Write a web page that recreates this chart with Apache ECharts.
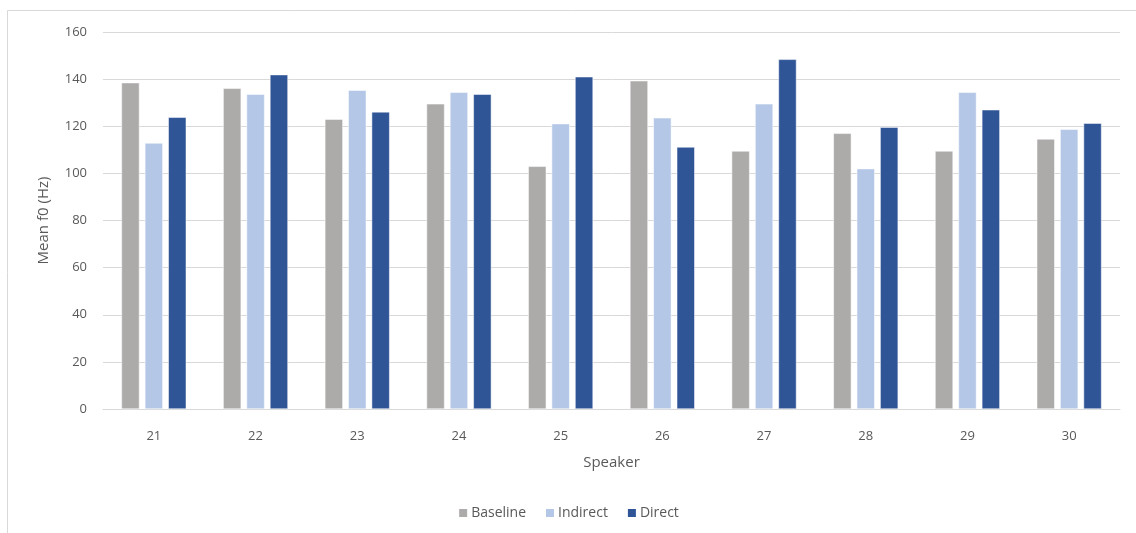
<!DOCTYPE html>
<html><head><meta charset="utf-8">
<script src="https://cdn.jsdelivr.net/npm/echarts@6/dist/echarts.min.js"></script>
<style>html,body{margin:0;padding:0;background:#fff}#c{width:1136px;height:533px}</style>
</head><body><div id="c"></div>
<script>
const categories = ['21','22','23','24','25','26','27','28','29','30'];
const baseline = [138.5, 136.1, 123.0, 129.5, 103.0, 139.3, 109.5, 117.0, 109.5, 114.6];
const indirect = [112.9, 133.6, 135.3, 134.4, 121.1, 123.6, 129.5, 102.0, 134.4, 118.7];
const direct   = [123.8, 141.9, 126.1, 133.6, 141.0, 111.2, 148.4, 119.6, 127.0, 121.3];
const seriesNames = ['Baseline', 'Indirect', 'Direct'];
const colors = ['#ADAAAA', '#B4C7E7', '#2F5597'];

const font = '"Open Sans", "Liberation Sans", sans-serif';
const chart = echarts.init(document.getElementById('c'), null, {renderer: 'canvas'});
const mk = (name, data, color) => ({
  name, type: 'bar', data, barWidth: 18, barGap: '30%',
  itemStyle: {color, borderColor: '#ffffff', borderWidth: 0.5},
  emphasis: {disabled: true}
});
chart.setOption({
  animation: false,
  textStyle: {fontFamily: font},
  graphic: [{type: 'rect', shape: {x: 7.5, y: 10.5, width: 1140, height: 540},
    style: {fill: 'none', stroke: '#D9D9D9', lineWidth: 1}, silent: true, z: -1}],
  grid: {left: 103, right: 16, top: 32, bottom: 124},
  legend: {
    data: seriesNames, bottom: 8, left: 'center', itemWidth: 10, itemHeight: 10, itemGap: 18,
    icon: 'rect', textStyle: {color: '#595959', fontSize: 14, fontFamily: font, padding: [0,0,0,-2]}
  },
  xAxis: {
    type: 'category', data: categories,
    name: 'Speaker', nameLocation: 'middle', nameGap: 46,
    nameTextStyle: {color: '#595959', fontSize: 15, fontFamily: font},
    axisLine: {lineStyle: {color: '#D9D9D9', width: 1}},
    axisTick: {show: false},
    axisLabel: {color: '#595959', fontSize: 13, margin: 21, fontFamily: font}
  },
  yAxis: {
    type: 'value', min: 0, max: 160, interval: 20,
    name: 'Mean f0 (Hz)', nameLocation: 'middle', nameGap: 52, nameRotate: 90,
    nameTextStyle: {color: '#595959', fontSize: 15, fontFamily: font},
    axisLine: {show: false}, axisTick: {show: false},
    axisLabel: {color: '#595959', fontSize: 13, margin: 16, fontFamily: font},
    splitLine: {lineStyle: {color: '#D9D9D9', width: 1}}
  },
  series: [mk(seriesNames[0], baseline, colors[0]), mk(seriesNames[1], indirect, colors[1]), mk(seriesNames[2], direct, colors[2])]
});
</script></body></html>
